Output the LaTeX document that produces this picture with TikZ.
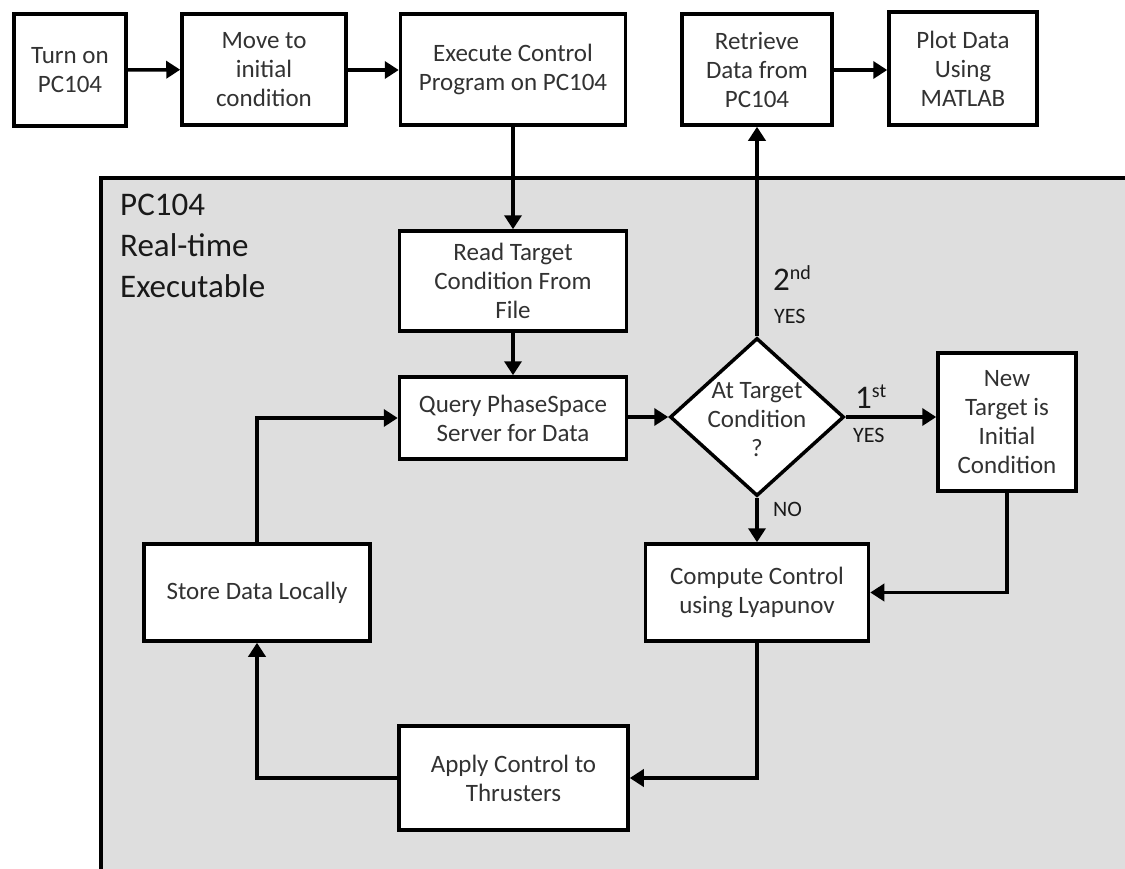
\documentclass[tikz,border=0pt]{standalone}
\usepackage{fontspec}
\setmainfont{Carlito}
\usetikzlibrary{shapes.geometric,arrows.meta}
\definecolor{bg}{RGB}{222,222,222}
\definecolor{txt}{RGB}{50,50,50}
\definecolor{lbl}{RGB}{25,25,25}
\begin{document}
\begin{tikzpicture}[x=1pt,y=-1pt,
  box/.style={draw, line width=3.5pt, fill=white, align=center,
    font=\fontsize{25}{29}\selectfont, text=txt, inner sep=0pt},
  arr/.style={line width=3.5pt, -{Triangle[length=14pt,width=17pt]}},
  plain/.style={line width=3.5pt},
  biglbl/.style={anchor=base west, inner sep=0pt, text=lbl, font=\fontsize{33}{40}\selectfont},
  smalllbl/.style={anchor=base west, inner sep=0pt, text=lbl, font=\fontsize{22}{26}\selectfont}]
\useasboundingbox (0,0) rectangle (1125,868);
\begin{scope}
\clip (0,0) rectangle (1125,868);
\fill[bg] (101,178) rectangle (1140,880);
\draw[plain] (1140,178) -- (101,178) -- (101,880);
\end{scope}
% big label
\node[biglbl] (l1) at (120,215) {PC104};
\node[biglbl] (l2) at (120,256) {Real-time};
\node[biglbl] (l3) at (120,297) {Executable};
% top row
\node[box, minimum width=112pt, minimum height=112pt] (b1) at (70,70) {Turn on\\PC104};
\node[box, minimum width=164pt, minimum height=111pt] (b2) at (264,69.5) {Move to\\initial\\condition};
\node[box, minimum width=225pt, minimum height=111pt] (b3) at (513,69.5) {Execute Control\\Program on PC104};
\node[box, minimum width=150pt, minimum height=111pt] (b4) at (757,69.5) {Retrieve\\Data from\\PC104};
\node[box, minimum width=148pt, minimum height=113pt] (b5) at (963,68.5) {Plot Data\\Using\\MATLAB};
% inner
\node[box, minimum width=227pt, minimum height=100pt] (read) at (513,281) {Read Target\\Condition From\\File};
\node[box, minimum width=227pt, minimum height=82pt] (query) at (513,418) {Query PhaseSpace\\Server for Data};
\node[draw, line width=3.5pt, fill=white, shape=diamond, inner sep=0pt, minimum width=174pt, minimum height=158pt] (dia) at (757,417) {};
\node[align=center, text=txt, inner sep=0pt, font=\fontsize{25}{29}\selectfont] (diatext) at (757,420) {At Target\\Condition\\?};
\node[box, minimum width=138pt, minimum height=138pt] (newt) at (1007,422) {New\\Target is\\Initial\\Condition};
\node[box, minimum width=223pt, minimum height=97pt] (comp) at (757,592.5) {Compute Control\\using Lyapunov};
\node[box, minimum width=226pt, minimum height=97pt] (store) at (257,592.5) {Store Data Locally};
\node[box, minimum width=229pt, minimum height=104pt] (apply) at (513.5,778) {Apply Control to\\Thrusters};
% labels
\node[anchor=base west, inner sep=0pt, text=lbl, font=\fontsize{33}{40}\selectfont] (second) at (773,290) {2\raisebox{11pt}{\fontsize{20}{24}\selectfont nd}};
\node[smalllbl] (yes2) at (774,323) {YES};
\node[anchor=base west, inner sep=0pt, text=lbl, font=\fontsize{33}{40}\selectfont] (first) at (855,408) {1\raisebox{11pt}{\fontsize{20}{24}\selectfont st}};
\node[smalllbl] (yes1) at (853,442) {YES};
\node[smalllbl] (no) at (773,516) {NO};
% connectors
\draw[arr] (b1) -- (b2);
\draw[arr] (b2.east |- 0,70) -- (b3.west |- 0,70);
\draw[arr] (b4.east |- 0,70) -- (b5.west |- 0,70);
\draw[arr] (b3.south) -- (read.north);
\draw[arr] (read.south) -- (query.north);
\draw[arr] (query.east |- dia.west) -- (dia.west);
\draw[arr] (dia.north) -- (b4.south);
\draw[arr] (dia.east) -- (dia.east -| newt.west);
\draw[arr] (dia.south) -- (comp.north);
\draw[arr] (newt.south) |- (comp.east);
\draw[arr] (comp.south) |- (apply.east);
\draw[arr] (apply.west) -| (store.south);
\draw[arr] (store.north) |- (query.west);
\end{tikzpicture}
\end{document}
